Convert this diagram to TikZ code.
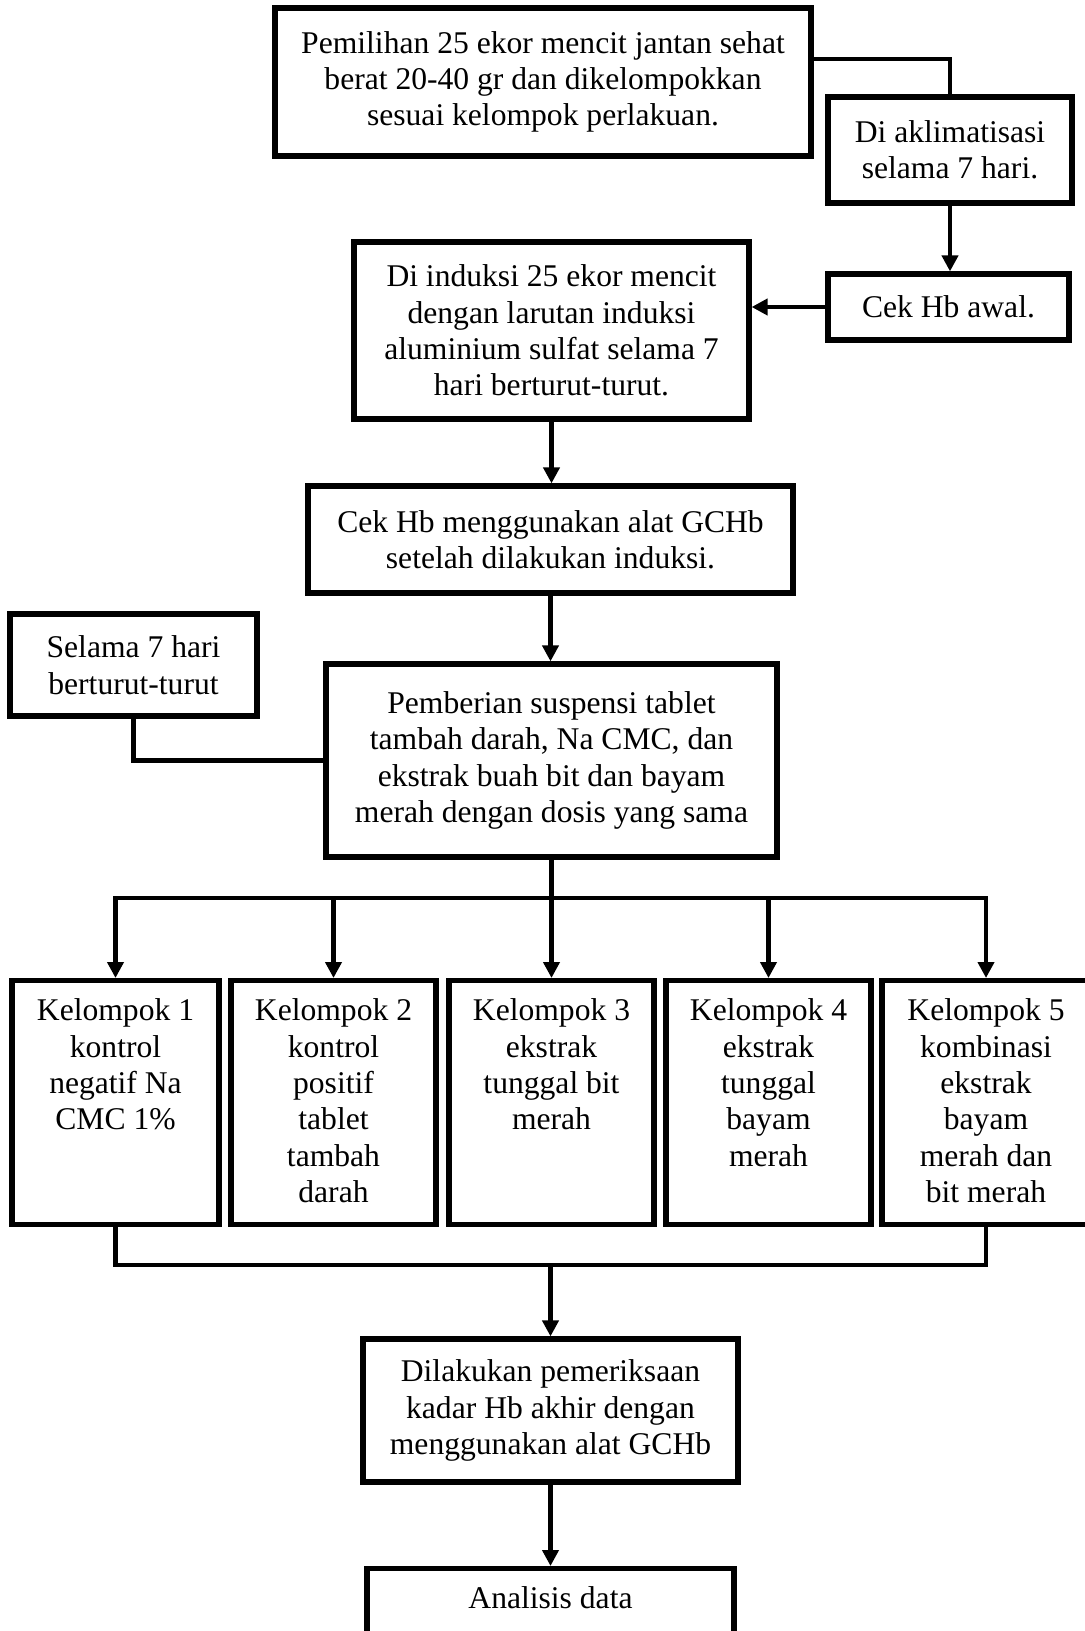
\documentclass[tikz,border=0pt]{standalone}
\usepackage{fontspec}
\setmainfont{Liberation Serif}
\usetikzlibrary{arrows.meta}

\begin{document}
\begin{tikzpicture}[x=0.5pt,y=-0.5pt]
        \tikzset{
        fc box/.style={draw,line width=2.6pt,align=flush center,inner sep=0pt,
            font=\fontsize{15.8}{18.2}\selectfont},
        fc grp/.style={fc box,anchor=north,text width=96pt,inner ysep=5pt,
            text height=15pt,text depth=97pt},
        fc link/.style={draw,line width=2.3pt},
        fc arrow/.style={fc link,-{Triangle[width=8pt,length=8pt]}}
        }
        \useasboundingbox (0,0) rectangle (1084,1631);

        \node[fc box,minimum width=268pt,minimum height=74pt] (1) at (543,82)
            {Pemilihan 25 ekor mencit jantan sehat\\berat 20-40 gr dan dikelompokkan\\sesuai kelompok perlakuan.};
        \node[fc box,minimum width=122pt,minimum height=53pt] (2) at (950,150)
            {Di aklimatisasi\\selama 7 hari.};
        \node[fc box,minimum width=120.5pt,minimum height=33pt] (3) at (948.5,307)
            {Cek Hb awal.};
        \node[fc box,minimum width=197.5pt,minimum height=88.5pt] (4) at (551.5,330.5)
            {Di induksi 25 ekor mencit\\dengan larutan induksi\\aluminium sulfat selama 7\\hari berturut-turut.};
        \node[fc box,minimum width=242.5pt,minimum height=53.5pt] (5) at (550.5,539.5)
            {Cek Hb menggunakan alat GCHb\\setelah dilakukan induksi.};
        \node[fc box,minimum width=123.5pt,minimum height=51pt] (6) at (133.5,665)
            {Selama 7 hari\\berturut-turut};
        \node[fc box,minimum width=225.5pt,minimum height=96.5pt] (7) at (551.5,760.5)
            {Pemberian suspensi tablet\\tambah darah, Na CMC, dan\\ekstrak buah bit dan bayam\\merah dengan dosis yang sama};

        \node[fc grp,minimum width=103.5pt] (k1) at (115.5,978)
            {Kelompok 1\\kontrol\\negatif Na\\CMC 1\%};
        \node[fc grp,minimum width=102.5pt] (k2) at (333.5,978)
            {Kelompok 2\\kontrol\\positif\\tablet\\tambah\\darah};
        \node[fc grp,minimum width=102.5pt] (k3) at (551.5,978)
            {Kelompok 3\\ekstrak\\tunggal bit\\merah};
        \node[fc grp,minimum width=102.5pt] (k4) at (768.5,978)
            {Kelompok 4\\ekstrak\\tunggal\\bayam\\merah};
        \node[fc grp,minimum width=104pt] (k5) at (986,978)
            {Kelompok 5\\kombinasi\\ekstrak\\bayam\\merah dan\\bit merah};

        \node[fc box,minimum width=187.5pt,minimum height=71.5pt] (8) at (550.5,1410.5)
            {Dilakukan pemeriksaan\\kadar Hb akhir dengan\\menggunakan alat GCHb};
        \node[fc grp,minimum width=183.5pt,text depth=40pt] (9) at (550.5,1566)
            {Analisis data};

        \coordinate (split) at (551.5,898);
        \coordinate (join) at (550.5,1265);

        % top part
        \path[fc link] ([yshift=11.5pt]1.east) -| (2.north);
        \path[fc arrow] (2.south) -- (2.south |- 3.north);
        \path[fc arrow] (3.west) -- (3.west -| 4.east);
        \path[fc arrow] (4.south) -- (4.south |- 5.north);
        \path[fc arrow] (5.south) -- (5.south |- 7.north);
        \path[fc link] (6.south) |- (7.west);

        % groups
        \path[fc link] (7.south) -- (split);
        \foreach \k in {k1,k2,k3,k4,k5}
            \path[fc arrow] (split) -| (\k.north);
        \path[fc link] (k1.south) |- (join);
        \path[fc link] (k5.south) |- (join);
        \path[fc arrow] (join) -- (join |- 8.north);
        \path[fc arrow] (8.south) -- (8.south |- 9.north);
\end{tikzpicture}
\end{document}
